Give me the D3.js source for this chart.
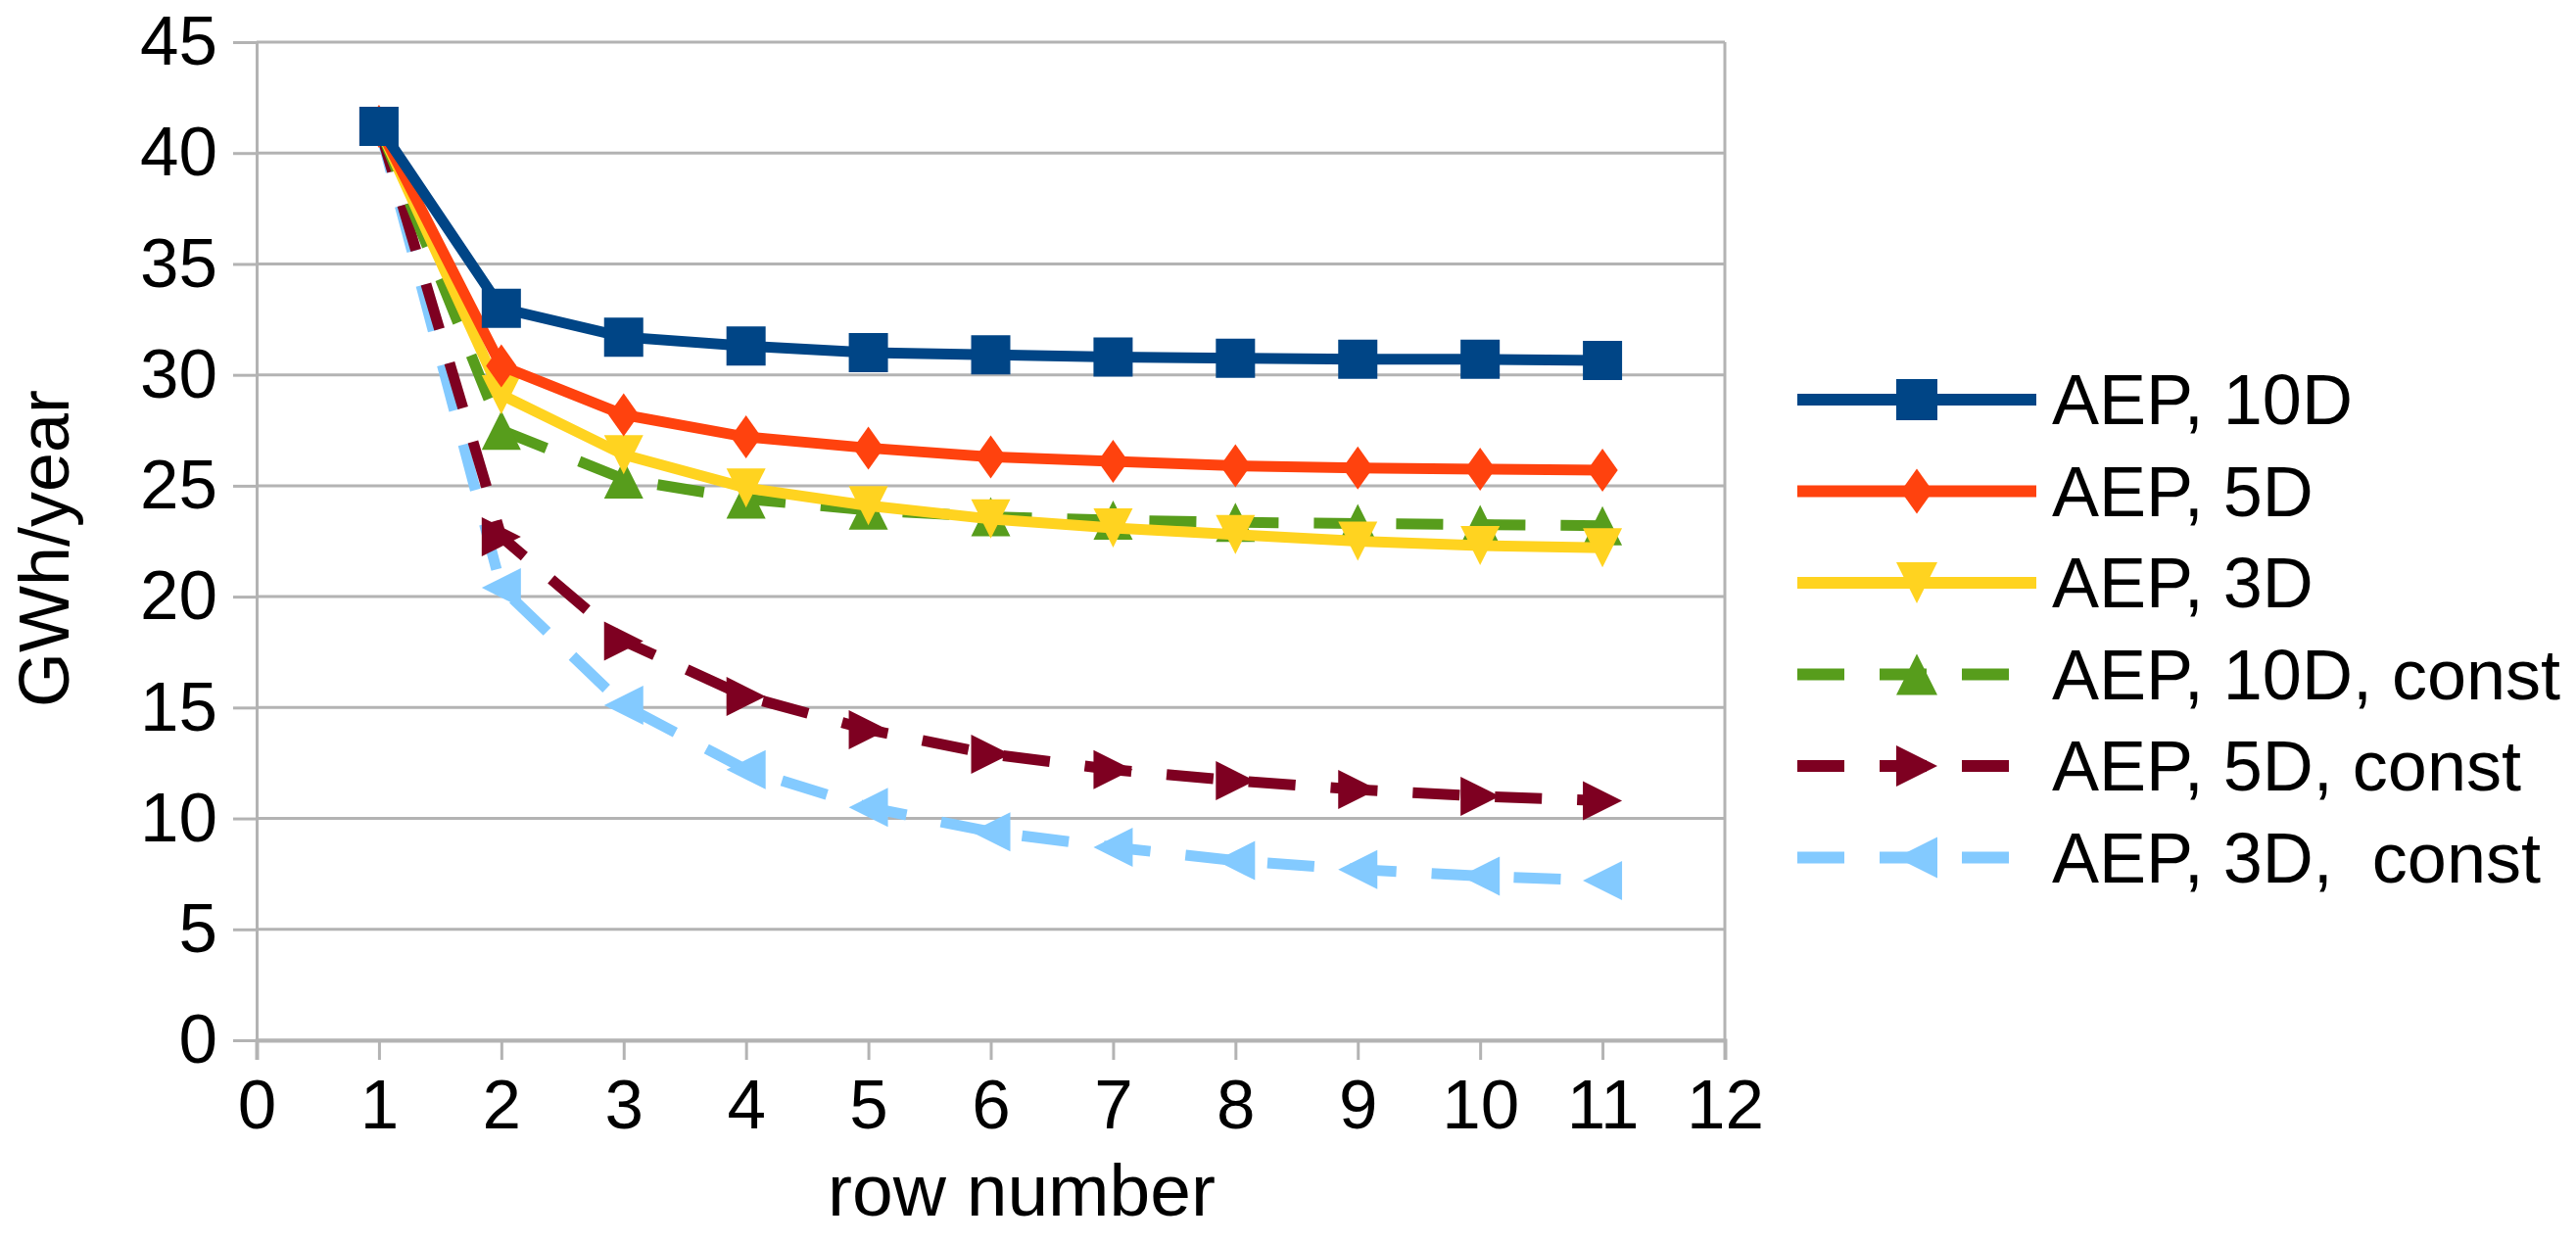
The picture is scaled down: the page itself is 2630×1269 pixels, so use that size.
<!DOCTYPE html>
<html>
<head>
<meta charset="utf-8">
<script src="https://cdn.jsdelivr.net/npm/d3@7"></script>
<style>
  html, body { margin: 0; padding: 0; background: #fff; }
  svg { display: block; font-family: "Liberation Sans", Arial, sans-serif; }
</style>
</head>
<body>
<svg width="2630" height="1269"></svg>
<script>
const rows = [1, 2, 3, 4, 5, 6, 7, 8, 9, 10, 11];
const xTicks = [0, 1, 2, 3, 4, 5, 6, 7, 8, 9, 10, 11, 12];
const yTicks = [0, 5, 10, 15, 20, 25, 30, 35, 40, 45];

const aep10D = [41.2, 33.0, 31.7, 31.3, 31.0, 30.9, 30.8, 30.75, 30.7, 30.7, 30.65];
const aep5D = [41.2, 30.4, 28.2, 27.2, 26.7, 26.3, 26.1, 25.9, 25.8, 25.75, 25.7];
const aep3D = [41.2, 29.1, 26.4, 24.9, 24.1, 23.5, 23.1, 22.8, 22.5, 22.3, 22.2];
const aep10Dconst = [41.2, 27.5, 25.3, 24.4, 23.9, 23.6, 23.45, 23.35, 23.3, 23.25, 23.2];
const aep5Dconst = [41.2, 22.7, 18.0, 15.5, 14.0, 12.9, 12.2, 11.7, 11.3, 11.0, 10.8];
const aep3Dconst = [41.2, 20.4, 15.1, 12.2, 10.5, 9.4, 8.7, 8.1, 7.7, 7.4, 7.2];

const seriesNames = ["AEP, 10D", "AEP, 5D", "AEP, 3D", "AEP, 10D, const", "AEP, 5D, const", "AEP, 3D,  const"];

const series = [
  { name: seriesNames[0], values: aep10D, color: "#004586", dash: null, marker: "square" },
  { name: seriesNames[1], values: aep5D, color: "#ff420e", dash: null, marker: "diamond" },
  { name: seriesNames[2], values: aep3D, color: "#ffd320", dash: null, marker: "down" },
  { name: seriesNames[3], values: aep10Dconst, color: "#579d1c", dash: "48,36", marker: "up" },
  { name: seriesNames[4], values: aep5Dconst, color: "#7e0021", dash: "48,36", marker: "right" },
  { name: seriesNames[5], values: aep3Dconst, color: "#83caff", dash: "48,36", marker: "left" },
];

const width = 2630;
const height = 1269;
const margin = { top: 43, right: 869, bottom: 207, left: 262 };
const gridColor = "#b3b3b3";

const x = d3.scaleLinear().domain([0, 12]).range([margin.left, width - margin.right]);
const y = d3.scaleLinear().domain([0, 45]).range([height - margin.bottom, margin.top]);

const svg = d3.select("svg");

// marker path, centred on 0,0
function markerPath(type, s) {
  const h = s / 2;
  switch (type) {
    case "square": return `M${-h},${-h}H${h}V${h}H${-h}Z`;
    case "diamond": return `M0,${-h * 1.1}L${h * 0.78},0L0,${h * 1.1}L${-h * 0.78},0Z`;
    case "down": return `M${-h},${-h}H${h}L0,${h}Z`;
    case "up": return `M${-h},${h}H${h}L0,${-h}Z`;
    case "right": return `M${-h},${-h}L${h},0L${-h},${h}Z`;
    case "left": return `M${h},${-h}L${-h},0L${h},${h}Z`;
  }
}

// horizontal gridlines
svg.append("g")
  .selectAll("line")
  .data(yTicks)
  .join("line")
  .attr("x1", x(0))
  .attr("x2", x(12))
  .attr("y1", (d) => y(d))
  .attr("y2", (d) => y(d))
  .attr("stroke", gridColor)
  .attr("stroke-width", 3);

// right border of plot
svg.append("line")
  .attr("x1", x(12)).attr("x2", x(12))
  .attr("y1", y(45)).attr("y2", y(0))
  .attr("stroke", gridColor).attr("stroke-width", 3);

const xAxis = (g) =>
  g
    .attr("transform", `translate(0,${y(0)})`)
    .call(d3.axisBottom(x).tickValues(xTicks).tickSize(20).tickPadding(20).tickFormat(d3.format("d")))
    .call((g) => g.select(".domain").attr("stroke", gridColor).attr("stroke-width", 4))
    .call((g) => g.selectAll(".tick line").attr("stroke", gridColor).attr("stroke-width", 3))
    .call((g) => g.selectAll(".tick text").attr("font-size", 71).attr("fill", "#000").attr("dy", "0.71em"));

const yAxis = (g) =>
  g
    .attr("transform", `translate(${x(0)},0)`)
    .call(d3.axisLeft(y).tickValues(yTicks).tickSize(24).tickPadding(16).tickFormat(d3.format("d")))
    .call((g) => g.select(".domain").attr("stroke", gridColor).attr("stroke-width", 3))
    .call((g) => g.selectAll(".tick line").attr("stroke", gridColor).attr("stroke-width", 3))
    .call((g) => g.selectAll(".tick text").attr("font-size", 71).attr("fill", "#000"));

svg.append("g").call(xAxis).attr("font-family", null);
svg.append("g").call(yAxis).attr("font-family", null);

// axis titles
svg.append("text")
  .attr("x", 1043)
  .attr("y", 1241)
  .attr("text-anchor", "middle")
  .attr("font-size", 75)
  .text("row number");

svg.append("text")
  .attr("transform", `translate(70,560) rotate(-90)`)
  .attr("text-anchor", "middle")
  .attr("font-size", 72)
  .text("GWh/year");

const line = d3.line()
  .x((d, i) => x(rows[i]))
  .y((d) => y(d));

// draw last series first so the first one sits on top
const plot = svg.append("g");
series.slice().reverse().forEach((s) => {
  const g = plot.append("g");
  g.append("path")
    .attr("d", line(s.values))
    .attr("fill", "none")
    .attr("stroke", s.color)
    .attr("stroke-width", 11)
    .attr("stroke-dasharray", s.dash);
  g.selectAll("path.m")
    .data(s.values)
    .join("path")
    .attr("class", "m")
    .attr("transform", (d, i) => `translate(${x(rows[i])},${y(d)})`)
    .attr("d", markerPath(s.marker, 40))
    .attr("fill", s.color);
});

// legend
const legend = svg.append("g");
series.forEach((s, i) => {
  const cy = 408 + i * 93.5;
  const g = legend.append("g").attr("transform", `translate(0,${cy})`);
  g.append("line")
    .attr("x1", 1835).attr("x2", s.dash ? 2056 : 2079)
    .attr("y1", 0).attr("y2", 0)
    .attr("stroke", s.color)
    .attr("stroke-width", 12)
    .attr("stroke-dasharray", s.dash);
  g.append("path")
    .attr("transform", `translate(1957,0)`)
    .attr("d", markerPath(s.marker, 42))
    .attr("fill", s.color);
  g.append("text")
    .attr("x", 2095)
    .attr("y", 25)
    .attr("font-size", 72)
    .style("white-space", "pre")
    .text(s.name);
});
</script>
</body>
</html>
